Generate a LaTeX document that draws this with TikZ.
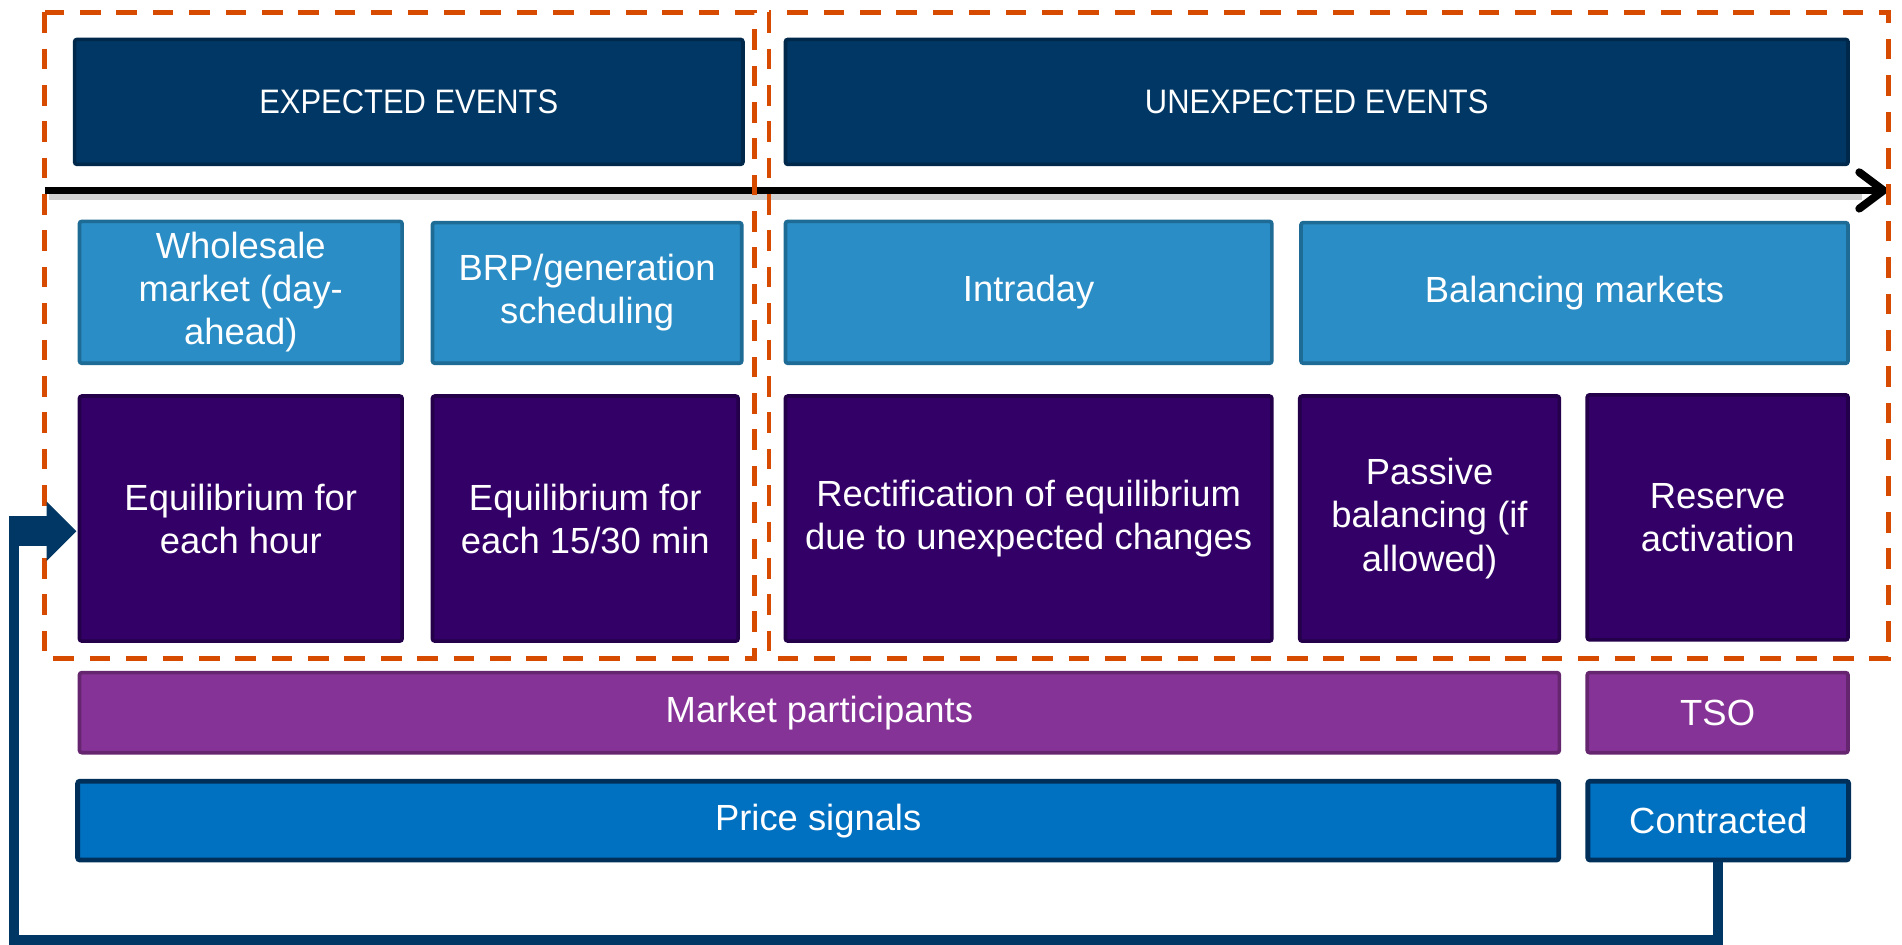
\documentclass[tikz,border=0pt]{standalone}
\usepackage{fontspec}
\setmainfont{Liberation Sans}
\newfontfamily\hdrfont[FakeStretch=0.91]{Liberation Sans}
\usetikzlibrary{arrows.meta}
\definecolor{navy}{HTML}{003764}
\definecolor{navyline}{HTML}{00284A}
\definecolor{sky}{HTML}{2A8DC5}
\definecolor{skyline}{HTML}{1E6B95}
\definecolor{deeppurple}{HTML}{320066}
\definecolor{deeppurpleline}{HTML}{24004A}
\definecolor{plum}{HTML}{863397}
\definecolor{plumline}{HTML}{66256F}
\definecolor{signal}{HTML}{0070C0}
\definecolor{signalline}{HTML}{00305A}
\definecolor{rust}{HTML}{D64B00}
\begin{document}
\begin{tikzpicture}[x=1pt,y=-1pt,
  box/.style={rectangle, rounded corners=2pt, line width=3pt, anchor=north west,
    inner sep=0pt, text=white, align=center,
    font=\fontsize{30}{35.5}\selectfont},
  hdr/.style={box, fill=navy, draw=navyline, font=\hdrfont\fontsize{28}{34}\selectfont},
  mkt/.style={box, fill=sky, draw=skyline},
  task/.style={box, fill=deeppurple, draw=deeppurpleline},
  actor/.style={box, fill=plum, draw=plumline},
  sig/.style={box, fill=signal, draw=signalline, line width=4pt},
  grp/.style={draw=rust, line width=4pt, dash pattern=on 17pt off 13pt},
  timeline/.style={line width=6.5pt, -{Straight Barb[length=20pt,width=30pt,line cap=round,line join=round]}},
  fbline/.style={draw=navy, line width=8pt, line join=miter}
]
\useasboundingbox (0,0) rectangle (1568,779);

% column headings
\node[hdr, minimum width=551pt, minimum height=103pt] (exp) at (60,31) {EXPECTED EVENTS};
\node[hdr, minimum width=876pt, minimum height=103pt] (unexp) at (646,31) {UNEXPECTED EVENTS};

% time axis with its soft shadow
\draw[black, opacity=0.18, line width=5pt] (40,162) -- (1535,162);
\coordinate (t0) at (37,157);
\coordinate (t1) at (1556,157);
\draw[timeline] (t0) -- (t1);

% markets
\node[mkt, minimum width=266pt, minimum height=117pt] (whs) at (64,181) {Wholesale\\market (day-\\ahead)};
\node[mkt, minimum width=255pt, minimum height=116pt] (brp) at (355,182) {BRP/generation\\scheduling};
\node[mkt, minimum width=401pt, minimum height=117pt] (intra) at (646,181) {Intraday};
\node[mkt, minimum width=451pt, minimum height=116pt] (bal) at (1071,182) {Balancing markets};

% what each market does
\node[task, minimum width=266pt, minimum height=202pt] (eh) at (64,325) {Equilibrium for\\each hour};
\node[task, minimum width=252pt, minimum height=202pt] (e15) at (355,325) {Equilibrium for\\each 15/30 min};
\node[task, minimum width=401pt, minimum height=202pt] (rect) at (646,325) {Rectification of equilibrium\\due to unexpected changes};
\node[task, minimum width=214pt, minimum height=202pt] (pas) at (1070,325) {Passive\\balancing (if\\allowed)};
\node[task, minimum width=215pt, minimum height=202pt] (res) at (1307,324) {Reserve\\activation};

% actors
\node[actor, minimum width=1220pt, minimum height=66pt] (mp) at (64,553) {Market participants};
\node[actor, minimum width=215pt, minimum height=66pt] (tso) at (1307,553) {TSO};

% signals
\node[sig, minimum width=1221pt, minimum height=65pt] (ps) at (62,642) {Price signals};
\node[sig, minimum width=215pt, minimum height=65pt] (con) at (1307,642) {Contracted};

% expected / unexpected groupings
\draw[grp] (37,10) rectangle (622,543);
\draw[grp] (634,10) rectangle (1557,543);

% feedback from contracted reserves back to the hourly equilibrium
\coordinate (fb) at (11.5,775);
\coordinate (fbt) at (11.5,450);
\coordinate (tip) at (63,438);
\draw[fbline] (con.south) |- (fb) -- (fbt);
\fill[navy] (7.5,425.5) rectangle (39,450.5);
\fill[navy] (38.5,413.5) -- (tip) -- (38.5,462.5) -- cycle;
\end{tikzpicture}
\end{document}
